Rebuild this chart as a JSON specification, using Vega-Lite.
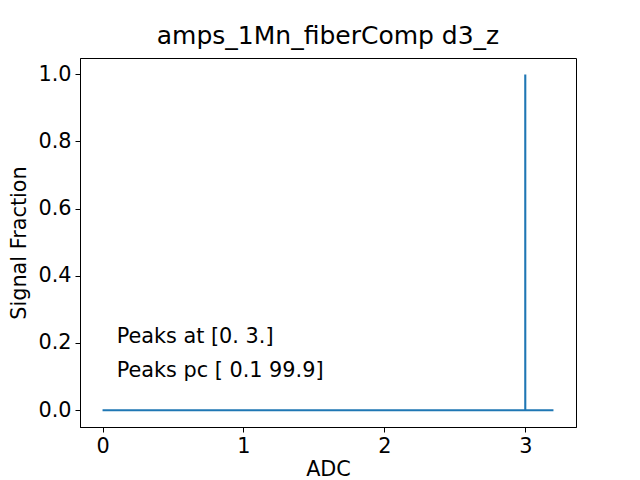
{
  "$schema": "https://vega.github.io/schema/vega-lite/v6.json",
  "width": 496,
  "height": 369,
  "autosize": {"type": "none"},
  "padding": {"left": 80, "top": 58, "right": 64, "bottom": 53},
  "background": "white",
  "config": {
    "font": "DejaVu Sans",
    "view": {"stroke": "black", "strokeWidth": 1},
    "axis": {
      "grid": false,
      "domainColor": "black",
      "tickColor": "black",
      "tickSize": 5,
      "labelPadding": 4,
      "labelFontSize": 20.8,
      "labelColor": "black",
      "titleFontSize": 20.8,
      "titleFontWeight": "normal",
      "titleColor": "black",
      "labelFont": "DejaVu Sans",
      "titleFont": "DejaVu Sans"
    }
  },
  "title": {
    "text": "amps_1Mn_fiberComp d3_z",
    "fontSize": 25,
    "fontWeight": "normal",
    "font": "DejaVu Sans",
    "color": "black",
    "offset": 9
  },
  "datasets": {
    "signal": [
      {"i": 0, "adc": 0.0, "frac": 0.0},
      {"i": 1, "adc": 3.0, "frac": 0.0},
      {"i": 2, "adc": 3.0, "frac": 0.999},
      {"i": 3, "adc": 3.0, "frac": 0.0},
      {"i": 4, "adc": 3.2, "frac": 0.0}
    ],
    "notes": [
      {"adc": 0.1, "frac": 0.2, "label": "Peaks at [0. 3.]"},
      {"adc": 0.1, "frac": 0.1, "label": "Peaks pc [ 0.1 99.9]"}
    ]
  },
  "layer": [
    {
      "data": {"name": "signal"},
      "mark": {"type": "line", "color": "#1f77b4", "strokeWidth": 2.1, "clip": true},
      "encoding": {
        "x": {
          "field": "adc", "type": "quantitative",
          "scale": {"domain": [-0.16, 3.36], "nice": false, "zero": false},
          "axis": {"values": [0, 1, 2, 3], "format": "d", "title": "ADC", "titlePadding": 4}
        },
        "y": {
          "field": "frac", "type": "quantitative",
          "scale": {"domain": [-0.05, 1.048], "nice": false, "zero": false},
          "axis": {"values": [0, 0.2, 0.4, 0.6, 0.8, 1.0], "format": ".1f", "title": "Signal Fraction", "titlePadding": 8}
        },
        "order": {"field": "i", "type": "quantitative"}
      }
    },
    {
      "data": {"name": "notes"},
      "mark": {"type": "text", "align": "left", "baseline": "alphabetic", "fontSize": 20.8, "font": "DejaVu Sans", "color": "black"},
      "encoding": {
        "x": {"field": "adc", "type": "quantitative"},
        "y": {"field": "frac", "type": "quantitative"},
        "text": {"field": "label", "type": "nominal"}
      }
    }
  ]
}
